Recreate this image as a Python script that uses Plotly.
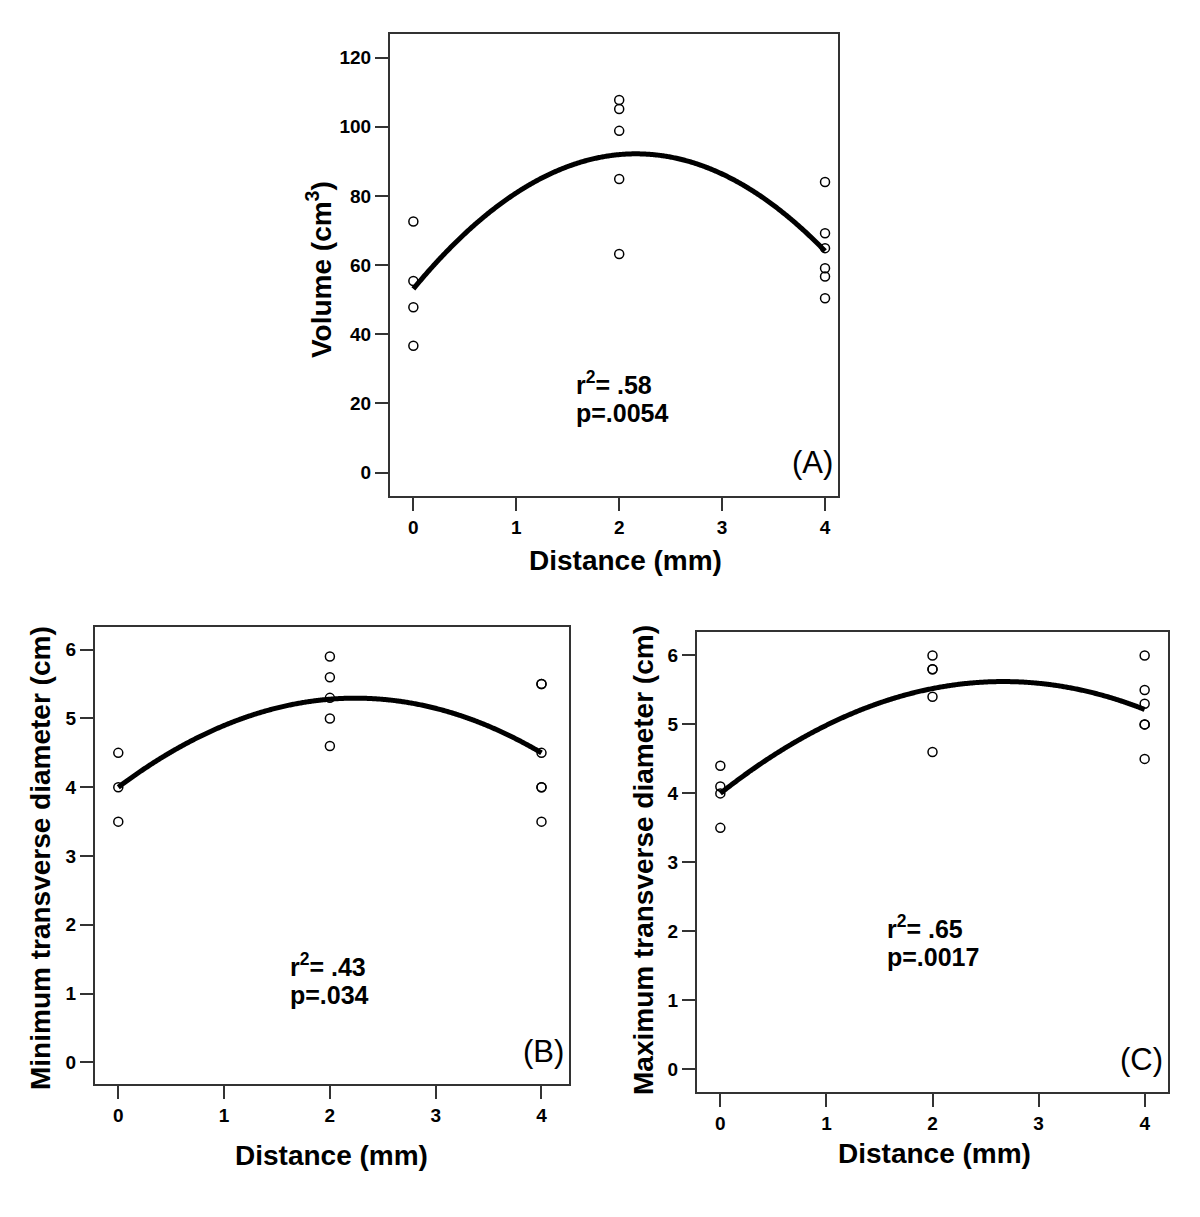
import numpy as np
import plotly.graph_objects as go

# panel A: volume (cm3) vs distance (mm)
vol_x = [0, 0, 0, 0, 2, 2, 2, 2, 2, 4, 4, 4, 4, 4, 4]
vol_y = [72.6, 55.4, 47.8, 36.7, 107.7, 105.1, 98.8, 84.9, 63.2,
         84.0, 69.2, 64.9, 59.1, 56.7, 50.4]

# panel B: minimum transverse diameter (cm)
min_x = [0, 0, 0, 2, 2, 2, 2, 2, 4, 4, 4, 4, 4, 4]
min_y = [4.5, 4.0, 3.5, 5.9, 5.6, 5.3, 5.0, 4.6, 5.5, 5.5, 4.5, 4.0, 4.0, 3.5]

# panel C: maximum transverse diameter (cm)
max_x = [0, 0, 0, 0, 2, 2, 2, 2, 2, 4, 4, 4, 4, 4, 4]
max_y = [4.4, 4.1, 4.0, 3.5, 6.0, 5.8, 5.8, 5.4, 4.6, 6.0, 5.5, 5.3, 5.0, 5.0, 4.5]

stats = [("r<sup>2</sup>= .58", "p=.0054"),
         ("r<sup>2</sup>= .43", "p=.034"),
         ("r<sup>2</sup>= .65", "p=.0017")]
panel_tags = ["(A)", "(B)", "(C)"]
y_titles = ["Volume (cm<sup>3</sup>)", "Minimum transverse diameter (cm)",
            "Maximum transverse diameter (cm)"]

W, H = 1200, 1217
FONT = "Liberation Sans, Arial, sans-serif"

# plot boxes in pixels: left, right, top, bottom
boxes = [(390, 838, 34, 496), (95, 569, 627, 1084), (697, 1168, 632, 1092)]
xranges = [[-0.227, 4.126], [-0.22, 4.26], [-0.22, 4.22]]
yranges = [[-6.74, 126.8], [-0.315, 6.33], [-0.33, 6.34]]
yticks = [[0, 20, 40, 60, 80, 100, 120], [0, 1, 2, 3, 4, 5, 6], [0, 1, 2, 3, 4, 5, 6]]
# stats text position (data coords)
stat_pos = [(1.56, 26, 17.3), (1.6, 1.41, 0.98), (1.55, 2.06, 1.63)]
# y title (x px, y px), x title center (px)
ytitle_px = [(319, 270), (40, 858), (643, 860)]
xtitle_px = [(626, 560), (331, 1155), (934, 1153)]

series = [(vol_x, vol_y), (min_x, min_y), (max_x, max_y)]

fig = go.Figure()
for i, (xs, ys) in enumerate(series):
    n = "" if i == 0 else str(i + 1)
    xa, ya = "x" + n, "y" + n
    # quadratic fit of the data, as drawn in the original
    coef = np.polyfit(xs, ys, 2)
    cx = np.linspace(0, 4, 400)
    fig.add_trace(go.Scatter(x=cx, y=np.polyval(coef, cx), mode="lines",
                             line=dict(color="black", width=5, simplify=False),
                             xaxis=xa, yaxis=ya, showlegend=False))
    fig.add_trace(go.Scatter(x=xs, y=ys, mode="markers",
                             marker=dict(symbol="circle-open", size=9, color="black",
                                         line=dict(width=1.5)),
                             xaxis=xa, yaxis=ya, showlegend=False))

    l, r, t, b = boxes[i]
    axis_common = dict(showline=True, linecolor="#333", linewidth=2, mirror=True,
                       ticks="outside", ticklen=13, tickwidth=1.5, tickcolor="#333",
                       showgrid=False, zeroline=False,
                       tickfont=dict(family=FONT, size=19, color="black", weight="bold"))
    fig.layout["xaxis" + n] = dict(domain=[l / W, r / W], range=xranges[i],
                                   tickvals=[0, 1, 2, 3, 4], anchor=ya, **axis_common)
    fig.layout["yaxis" + n] = dict(domain=[1 - b / H, 1 - t / H], range=yranges[i],
                                   tickvals=yticks[i], anchor=xa, **axis_common)

    sx, sy1, sy2 = stat_pos[i]
    for txt, yy in ((stats[i][0], sy1), (stats[i][1], sy2)):
        fig.add_annotation(x=sx, y=yy, xref=xa, yref=ya, text="<b>%s</b>" % txt,
                           showarrow=False, xanchor="left", yanchor="middle",
                           font=dict(family=FONT, size=25, color="black"))
    fig.add_annotation(x=(r - 3) / W, y=1 - (b - 33) / H, xref="paper", yref="paper",
                       text=panel_tags[i], showarrow=False, xanchor="right",
                       yanchor="middle", font=dict(family=FONT, size=31, color="black"))
    fig.add_annotation(x=ytitle_px[i][0] / W, y=1 - ytitle_px[i][1] / H, xref="paper",
                       yref="paper", text="<b>%s</b>" % y_titles[i], textangle=-90,
                       showarrow=False, xanchor="center", yanchor="middle",
                       font=dict(family=FONT, size=28, color="black"))
    fig.add_annotation(x=xtitle_px[i][0] / W, y=1 - xtitle_px[i][1] / H, xref="paper",
                       yref="paper", text="<b>Distance (mm)</b>", showarrow=False,
                       xanchor="center", yanchor="middle",
                       font=dict(family=FONT, size=28, color="black"))

fig.update_layout(width=W, height=H, margin=dict(l=0, r=0, t=0, b=0),
                  paper_bgcolor="white", plot_bgcolor="white")
# drop the page's default body margin so the figure sits at the window corner
fig.write_html("out.html", config={"displayModeBar": False},
               post_script="document.body.style.margin='0px';")
